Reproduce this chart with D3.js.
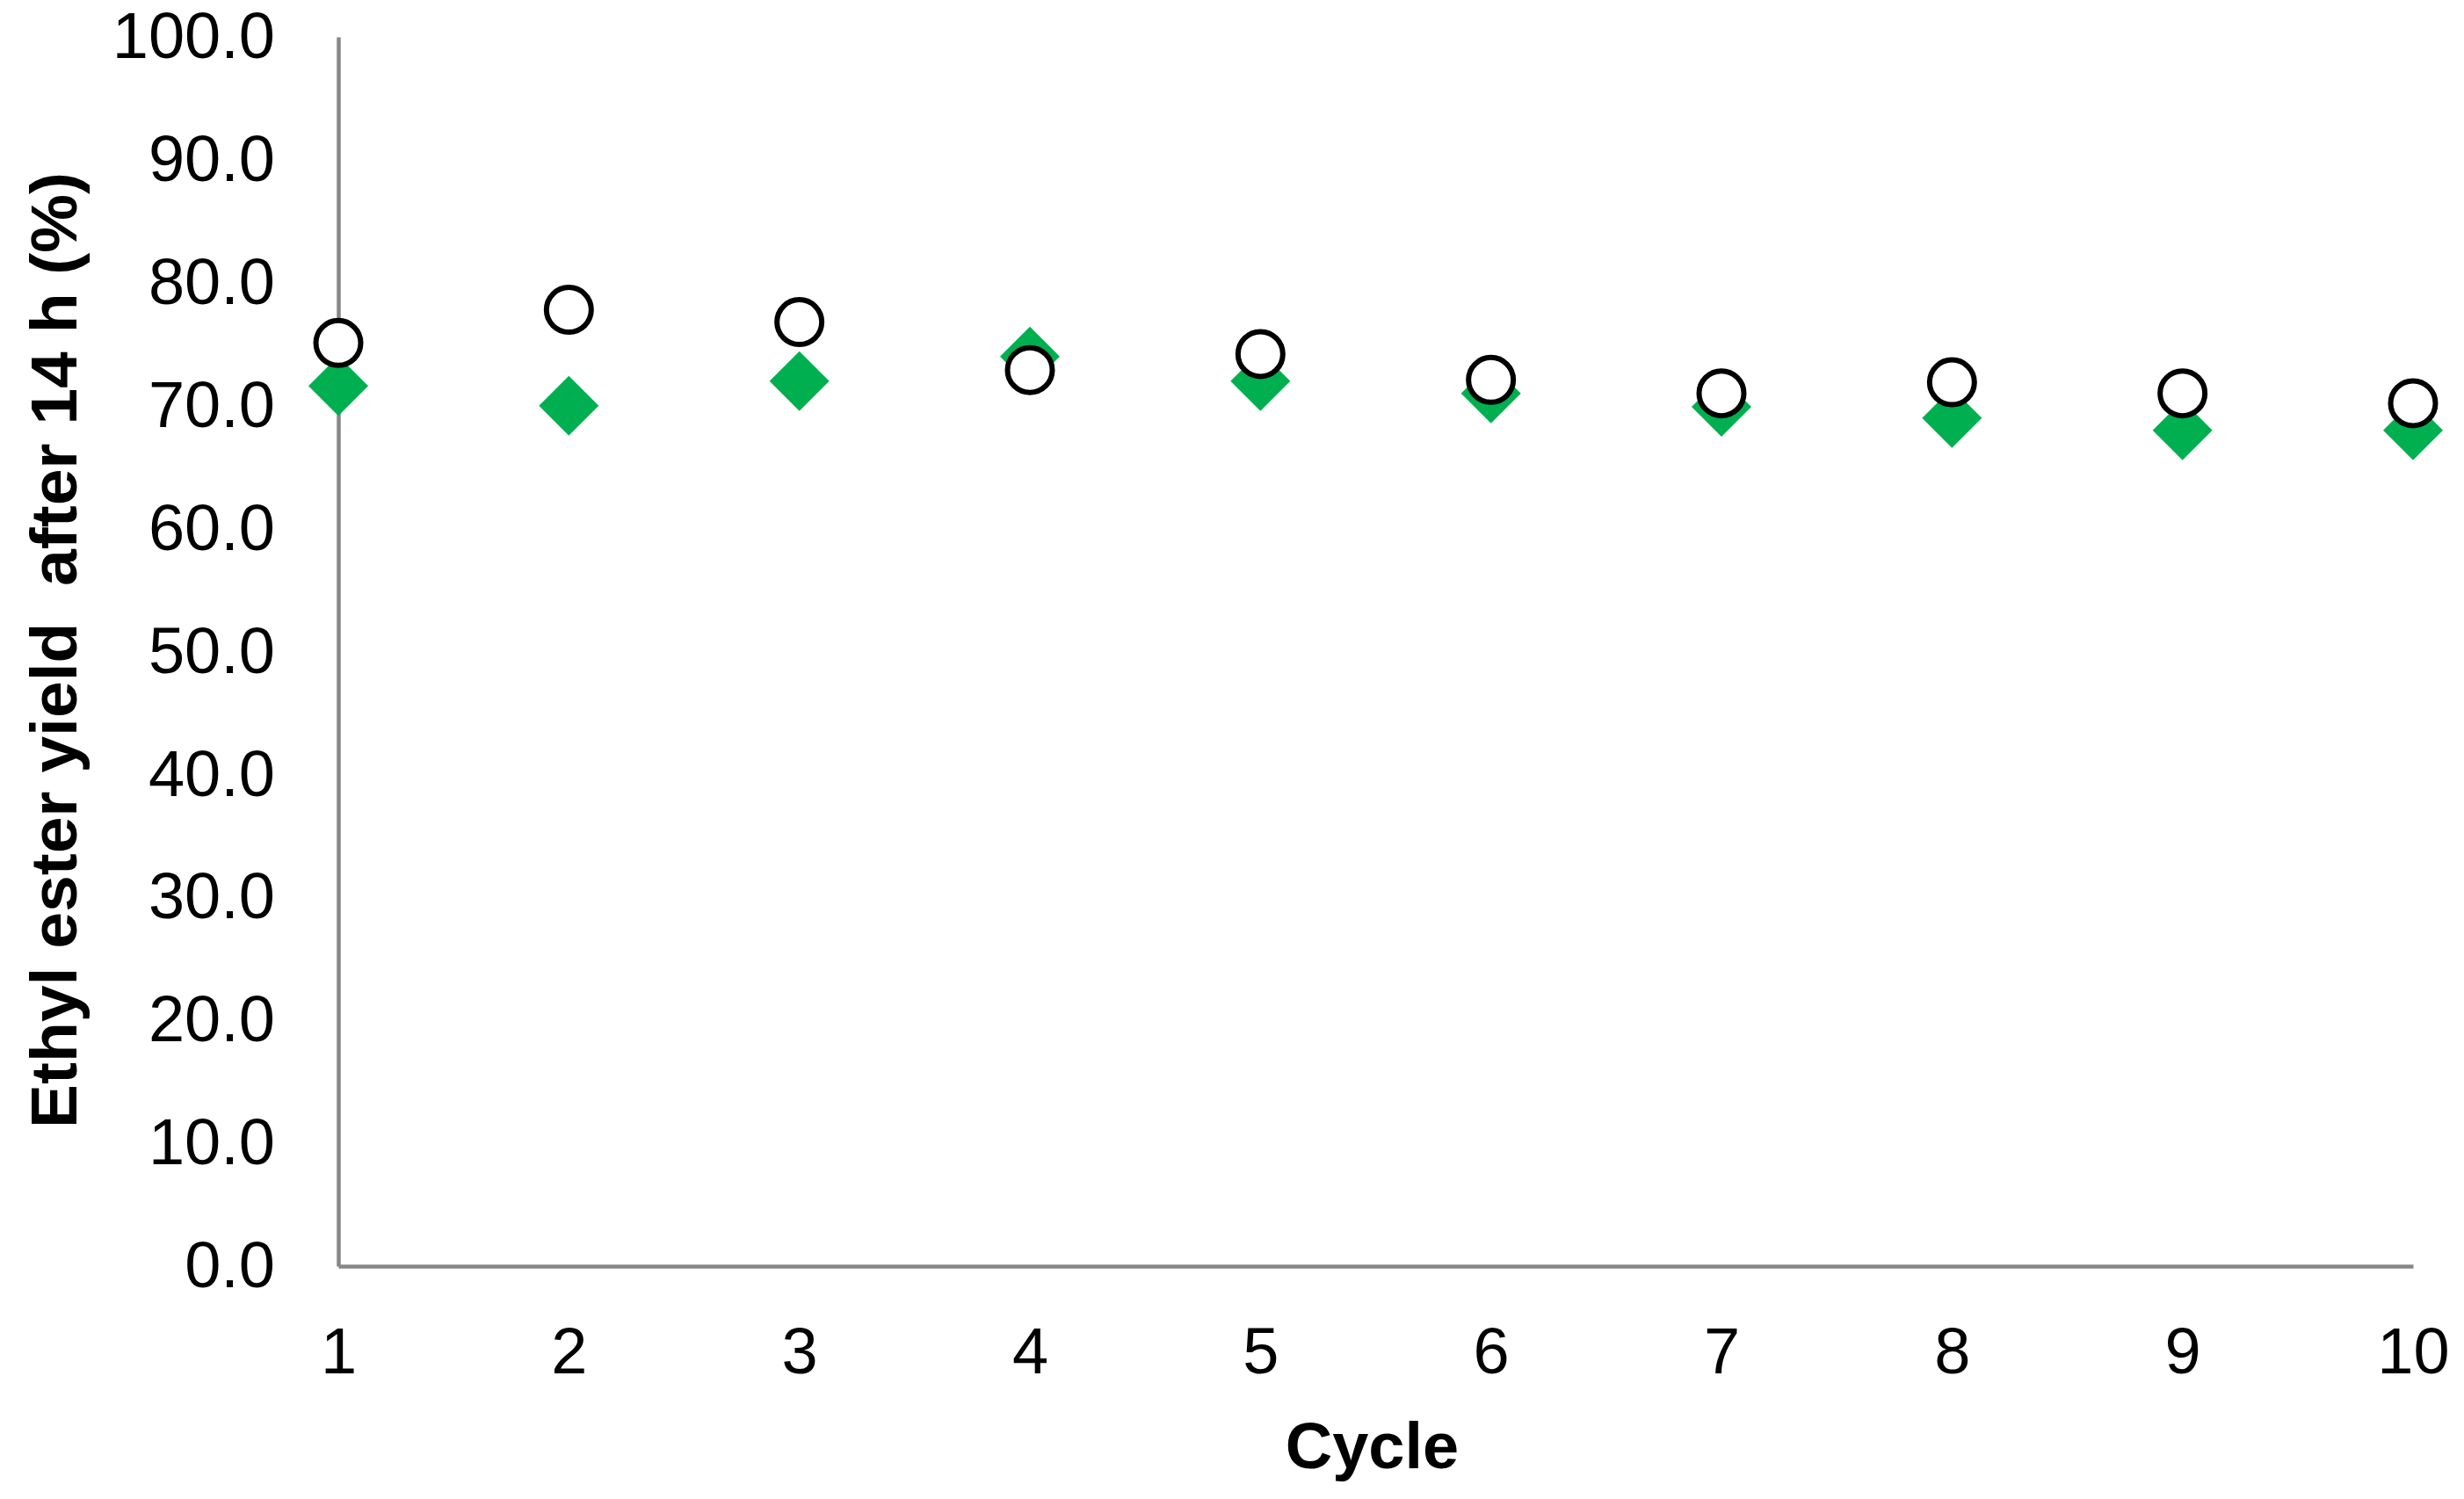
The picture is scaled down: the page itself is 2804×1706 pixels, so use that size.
<!DOCTYPE html>
<html>
<head>
<meta charset="utf-8">
<script src="https://cdn.jsdelivr.net/npm/d3@7"></script>
<style>
  html, body { margin: 0; padding: 0; background: #fff; }
  svg { display: block; }
</style>
</head>
<body>
<script>
// ---- Data ----
const cycles = [1, 2, 3, 4, 5, 6, 7, 8, 9, 10];
const diamondSeries = [71.6, 70.0, 72.0, 74.0, 72.0, 71.0, 69.9, 69.0, 68.0, 68.0];
const circleSeries  = [75.1, 77.8, 76.8, 72.9, 74.2, 72.1, 71.0, 71.9, 71.0, 70.2];
const yTicks = [0, 10, 20, 30, 40, 50, 60, 70, 80, 90, 100];
const xLabel = "Cycle";
const yLabel = "Ethyl ester yield  after 14 h (%)";

(function () {
// ---- Layout ----
const W = 2804, H = 1706;
const mLeft = 385, mRight = 2746, mTop = 42, mBottom = 1441;
const font = "'Liberation Sans', Arial, sans-serif";

const svg = d3.select("body").append("svg")
  .attr("width", W).attr("height", H)
  .attr("viewBox", `0 0 ${W} ${H}`);

const x = d3.scaleLinear().domain([1, 10]).range([mLeft, mRight]);
const y = d3.scaleLinear().domain([0, 100]).range([mBottom, mTop]);

// Y axis
const yAxis = svg.append("g")
  .attr("transform", `translate(${mLeft},0)`)
  .call(d3.axisLeft(y).tickValues(yTicks).tickFormat(d3.format(".1f")).tickSize(0).tickPadding(72));
yAxis.select(".domain").attr("stroke", "#878787").attr("stroke-width", 4.5);
yAxis.selectAll("text")
  .attr("font-family", font).attr("font-size", 74).attr("fill", "#000");

// X axis
const xAxis = svg.append("g")
  .attr("transform", `translate(0,${mBottom})`)
  .call(d3.axisBottom(x).tickValues(cycles).tickFormat(d3.format("d")).tickSize(0).tickPadding(69));
xAxis.select(".domain").attr("stroke", "#878787").attr("stroke-width", 4.5);
xAxis.selectAll("text")
  .attr("font-family", font).attr("font-size", 74).attr("fill", "#000");

// Axis titles
svg.append("text")
  .attr("x", (mLeft + mRight) / 2 - 4).attr("y", 1671)
  .attr("text-anchor", "middle")
  .attr("font-family", font).attr("font-size", 74).attr("font-weight", "bold")
  .text(xLabel);

svg.append("text")
  .attr("transform", `translate(87,740) rotate(-90)`)
  .attr("text-anchor", "middle")
  .attr("xml:space", "preserve")
  .style("white-space", "pre")
  .attr("font-family", font).attr("font-size", 75).attr("font-weight", "bold")
  .text(yLabel);

// Custom square diamond symbol
const squareDiamond = {
  draw(ctx, size) {
    const r = Math.sqrt(size / 2);
    ctx.moveTo(0, -r); ctx.lineTo(r, 0); ctx.lineTo(0, r); ctx.lineTo(-r, 0); ctx.closePath();
  }
};

// Diamonds
svg.append("g").selectAll("path")
  .data(cycles.map((c, i) => ({ c, v: diamondSeries[i] })))
  .join("path")
  .attr("transform", d => `translate(${x(d.c)},${y(d.v)})`)
  .attr("d", d3.symbol().type(squareDiamond).size(2 * 34 * 34))
  .attr("fill", "#00B050");

// Circles
svg.append("g").selectAll("circle")
  .data(cycles.map((c, i) => ({ c, v: circleSeries[i] })))
  .join("circle")
  .attr("cx", d => x(d.c)).attr("cy", d => y(d.v))
  .attr("r", 25.5)
  .attr("fill", "#fff").attr("stroke", "#000").attr("stroke-width", 6);
})();
</script>
</body>
</html>
